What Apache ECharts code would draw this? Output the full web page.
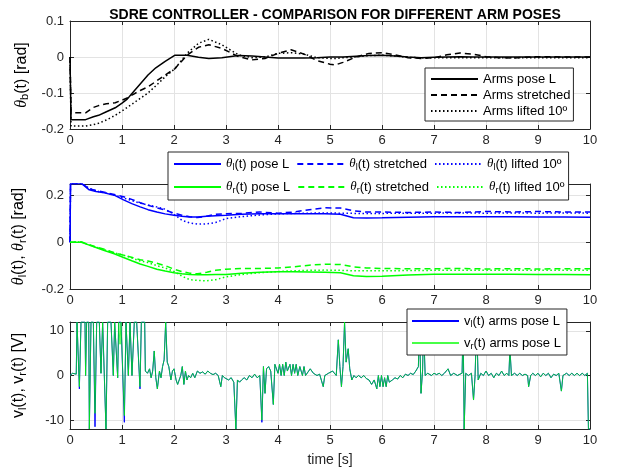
<!DOCTYPE html>
<html>
<head>
<meta charset="utf-8">
<script src="https://cdn.jsdelivr.net/npm/echarts@6/dist/echarts.min.js"></script>
<style>
  html, body { margin: 0; padding: 0; background: #fff; }
  #chart { width: 617px; height: 475px; }
</style>
</head>
<body>
<div id="chart"></div>
<script>
// top plot: body angle theta_b(t)
const tTop = [0, 0.02, 0.3, 0.45, 0.55, 0.7, 0.87, 1.0, 1.1, 1.2,
  1.35, 1.5, 1.65, 1.83, 2.02, 2.25, 2.47, 2.67, 2.92, 3.24,
  3.5, 3.75, 4.0, 4.25, 4.5, 4.75, 5.0, 5.1, 5.25, 5.5,
  5.75, 6.0, 6.25, 6.5, 6.75, 7.0, 7.25, 7.5, 7.75, 8.0,
  8.25, 8.5, 8.75, 9.0, 9.5, 10];
const thetaBPoseL = [0, -0.174, -0.174, -0.166, -0.162, -0.152, -0.141, -0.128, -0.117, -0.1,
  -0.075, -0.05, -0.03, -0.012, 0.005, 0.005, -0.001, -0.004, -0.002, 0.004,
  0.003, 0, -0.003, -0.003, -0.003, -0.002, 0, 0, 0, 0.002,
  0.004, 0.005, 0.003, 0, -0.002, -0.001, 0, 0.001, 0, 0,
  0, 0, 0, 0, 0, 0];
const thetaBStretched = [0, -0.155, -0.155, -0.14, -0.135, -0.13, -0.127, -0.12, -0.114, -0.105,
  -0.093, -0.083, -0.068, -0.05, -0.032, 0.005, 0.027, 0.034, 0.024, 0.001,
  -0.008, -0.004, 0.01, 0.02, 0.008, -0.01, -0.02, -0.022, -0.015, 0,
  0.01, 0.012, 0.006, -0.002, -0.004, -0.002, 0.006, 0.011, 0.008, 0.001,
  -0.002, -0.003, -0.001, 0.001, 0, 0];
const thetaBLifted = [0, -0.192, -0.192, -0.188, -0.184, -0.175, -0.162, -0.15, -0.14, -0.13,
  -0.115, -0.1, -0.08, -0.055, -0.032, 0.01, 0.038, 0.049, 0.034, 0.006,
  -0.002, 0, 0.01, 0.012, 0.008, -0.002, -0.004, -0.004, -0.002, 0,
  0.004, 0.005, 0.003, -0.001, -0.002, -0.002, -0.002, -0.002, -0.002, -0.002,
  -0.002, -0.002, -0.002, -0.002, -0.002, -0.002];

// middle plot: wheel angles
const tMid = [0, 0.01, 0.22, 0.37, 0.5, 0.66, 0.85, 1.03, 1.2, 1.35,
  1.5, 1.67, 1.83, 2.0, 2.15, 2.3, 2.45, 2.63, 2.8, 3.0,
  3.3, 3.65, 4.0, 4.3, 4.6, 4.9, 5.2, 5.45, 5.7, 6.0,
  6.5, 7.0, 7.5, 8.0, 8.5, 9.0, 9.5, 10];
const thetaLPoseL = [0, 0.252, 0.252, 0.225, 0.218, 0.212, 0.202, 0.182, 0.165, 0.152,
  0.14, 0.13, 0.122, 0.116, 0.112, 0.109, 0.109, 0.112, 0.114, 0.116,
  0.12, 0.123, 0.123, 0.123, 0.123, 0.122, 0.12, 0.105, 0.104, 0.105,
  0.108, 0.11, 0.11, 0.11, 0.11, 0.109, 0.109, 0.108];
const thetaLStretched = [0, 0.252, 0.252, 0.23, 0.222, 0.215, 0.205, 0.195, 0.183, 0.17,
  0.159, 0.148, 0.138, 0.125, 0.116, 0.11, 0.106, 0.112, 0.12, 0.123,
  0.124, 0.13, 0.125, 0.13, 0.14, 0.148, 0.147, 0.135, 0.13, 0.13,
  0.128, 0.13, 0.128, 0.132, 0.13, 0.132, 0.13, 0.13];
const thetaLLifted = [0, 0.252, 0.252, 0.232, 0.22, 0.213, 0.203, 0.19, 0.178, 0.168,
  0.16, 0.152, 0.142, 0.12, 0.095, 0.083, 0.078, 0.079, 0.085, 0.102,
  0.11, 0.117, 0.122, 0.124, 0.125, 0.126, 0.125, 0.124, 0.124, 0.124,
  0.125, 0.125, 0.126, 0.125, 0.126, 0.125, 0.126, 0.125];
const thetaRPoseL = [0, 0, 0, -0.012, -0.022, -0.035, -0.049, -0.065, -0.08, -0.093,
  -0.103, -0.115, -0.123, -0.13, -0.135, -0.138, -0.139, -0.139, -0.138, -0.138,
  -0.133, -0.128, -0.126, -0.126, -0.127, -0.128, -0.13, -0.143, -0.146, -0.145,
  -0.14, -0.137, -0.137, -0.137, -0.137, -0.138, -0.138, -0.139];
const thetaRStretched = [0, 0, 0.002, -0.01, -0.02, -0.03, -0.045, -0.055, -0.065, -0.075,
  -0.08, -0.09, -0.1, -0.115, -0.125, -0.132, -0.135, -0.128, -0.12, -0.115,
  -0.112, -0.112, -0.11, -0.105, -0.098, -0.094, -0.095, -0.105, -0.11, -0.112,
  -0.113, -0.113, -0.112, -0.114, -0.113, -0.114, -0.113, -0.113];
const thetaRLifted = [0, 0, 0.002, -0.012, -0.02, -0.032, -0.045, -0.055, -0.068, -0.08,
  -0.087, -0.1, -0.11, -0.125, -0.145, -0.16, -0.163, -0.165, -0.16, -0.148,
  -0.138, -0.13, -0.125, -0.122, -0.12, -0.119, -0.12, -0.122, -0.122, -0.122,
  -0.121, -0.12, -0.12, -0.12, -0.12, -0.12, -0.12, -0.12];

// bottom plot: motor voltages (arms pose L)
const vTime = [0, 0.05, 0.12, 0.135, 0.17, 0.18, 0.212, 0.288, 0.3, 0.32,
  0.36, 0.372, 0.404, 0.449, 0.481, 0.513, 0.564, 0.596, 0.628, 0.66,
  0.692, 0.724, 0.788, 0.833, 0.859, 0.885, 0.917, 0.936, 0.962, 0.981,
  1.045, 1.077, 1.122, 1.154, 1.192, 1.237, 1.282, 1.346, 1.372, 1.436,
  1.449, 1.49, 1.53, 1.56, 1.59, 1.62, 1.65, 1.68, 1.72, 1.75,
  1.78, 1.81, 1.84, 1.87, 1.9, 1.94, 1.97, 2.0, 2.04, 2.07,
  2.1, 2.13, 2.16, 2.19, 2.22, 2.25, 2.28, 2.32, 2.36, 2.4,
  2.45, 2.5, 2.55, 2.6, 2.65, 2.7, 2.75, 2.8, 2.85, 2.9,
  2.93, 2.97, 3.0, 3.05, 3.1, 3.15, 3.19, 3.22, 3.26, 3.3,
  3.35, 3.4, 3.45, 3.5, 3.55, 3.6, 3.65, 3.69, 3.72, 3.75,
  3.78, 3.82, 3.86, 3.91, 3.94, 3.97, 4.0, 4.03, 4.06, 4.09,
  4.12, 4.15, 4.18, 4.23, 4.26, 4.29, 4.32, 4.35, 4.38, 4.42,
  4.47, 4.5, 4.53, 4.59, 4.62, 4.68, 4.75, 4.8, 4.87, 4.9,
  4.97, 5.05, 5.12, 5.16, 5.19, 5.22, 5.25, 5.28, 5.31, 5.35,
  5.38, 5.42, 5.46, 5.5, 5.55, 5.6, 5.65, 5.7, 5.75, 5.8,
  5.85, 5.9, 5.93, 5.96, 5.99, 6.02, 6.05, 6.08, 6.11, 6.14,
  6.2, 6.25, 6.3, 6.35, 6.4, 6.45, 6.5, 6.55, 6.6, 6.65,
  6.7, 6.72, 6.75, 6.78, 6.8, 6.83, 6.88, 6.95, 7.0, 7.05,
  7.1, 7.15, 7.2, 7.27, 7.32, 7.38, 7.45, 7.5, 7.54, 7.56,
  7.58, 7.61, 7.66, 7.72, 7.76, 7.79, 7.82, 7.85, 7.9, 7.95,
  8.0, 8.05, 8.1, 8.15, 8.2, 8.25, 8.3, 8.35, 8.4, 8.44,
  8.46, 8.49, 8.55, 8.6, 8.65, 8.7, 8.75, 8.8, 8.82, 8.86,
  8.9, 8.95, 9.0, 9.05, 9.1, 9.15, 9.2, 9.25, 9.3, 9.35,
  9.4, 9.45, 9.48, 9.55, 9.6, 9.65, 9.7, 9.75, 9.8, 9.85,
  9.9, 9.95, 9.97, 10];
const vLeft = [0, 0.5, 0.3, 12, 12, -3, 12, 12, 0, 12,
  12, -12, 12, 12, -11.5, 12, 12, 0.5, 12, 12,
  -12, 12, 12, 0, 12, 12, -0.5, 12, 12, 12,
  -10.5, 12, 0, 12, 0, 12, 12, -3, 12, 12,
  1, 0.5, 1.5, -0.5, 1, 5.5, -0.5, -3, 1, -0.5,
  2, 3.5, 12, 3, 2, -1, 1, 1.5, -1, -2,
  -2, 0, 2, -2, 1, -1, 0, -0.5, 0.5, -0.5,
  1, 0.5, 0.8, 0.3, 1, 0.5, 0.2, 0.5, 0, -2.5,
  0, -0.5, -0.3, -1, -0.5, -1.5, -12, -1, -1.5, -1,
  -0.5, -1, 0, -0.5, 0.3, -0.5, 0, -10.5, 2, -4,
  1.5, 2, 1, -6.5, 2.5, 2.5, 0.5, 2.5, 0, 2.5,
  0, 3, 1, 2.5, 0, 2.5, 0.5, 2.5, 0, 2,
  0, 2, 0, 1, 1.5, 0.5, 0, 0.3, -2.5, 0,
  0.5, 1, 0, 8, 2, -2.5, 2, 12, 3, 6,
  1.5, -1, 0, -0.5, 0, -0.5, 0, -0.7, -1, -2,
  -1, -3, 0, -2.5, 0, -2.5, -0.5, -2.5, 0, -1.5,
  -1, -0.5, -0.8, 0, -0.5, 0.3, 0, 0.5, 0.2, 1,
  2, 12, -4, 1, 11, 0, 0.5, 0, 0.5, 0.2,
  0.5, 0, 0.5, 1.5, 0, 0.5, 0, 0.3, 0.5, 12,
  -12, 0.5, 0, 0.5, -5.5, 0, 12, -1, 0.5, 0,
  1, 0, 0.5, -0.5, 0.5, 0, 1, 0, 0.5, 0,
  6, 0, 0.5, 0, 0.5, 0, 0.3, 0, -2.5, 0,
  0.5, 0, 0.5, -0.3, 0.5, 0, 0.5, -0.5, 0.3, 0,
  0.5, -3.5, 0, 0.5, 0, 0.5, 0, 0.5, 0, 0.5,
  0, 0.5, -12, -12];
const vRight = [0, 0.5, 0.3, 12, 12, -2.5, 12, 12, 0, 12,
  12, -12, 12, 12, -8.5, 12, 12, 0.5, 12, 12,
  -12, 12, 12, 0, 12, 12, -0.5, 12, 7, 12,
  -9, 12, 0, 12, 0, 12, 12, -2.5, 12, 12,
  1, 0.5, 1.5, -0.5, 1, 5.5, -0.5, -3, 1, -0.5,
  2, 3.5, 12, 3, 2, -1, 1, 1.5, -1, -2,
  -2, 0, 2, -2, 1, -1, 0, -0.5, 0.5, -0.5,
  1, 0.5, 0.8, 0.3, 1, 0.5, 0.2, 0.5, 0, -2.5,
  0, -0.5, -0.3, -1, -0.5, -1.5, -12, -1, -1.5, -1,
  -0.5, -1, 0, -0.5, 0.3, -0.5, 0, -10, 2, -4,
  1.5, 2, 1, -6.5, 2.5, 2.5, 0.5, 2.5, 0, 2.5,
  0, 3, 1, 2.5, 0, 2.5, 0.5, 2.5, 0, 2,
  0, 2, 0, 1, 1.5, 0.5, 0, 0.3, -2.5, 0,
  0.5, 1, 0, 8, 2, -2.5, 2, 12, 3, 6,
  1.5, -1, 0, -0.5, 0, -0.5, 0, -0.7, -1, -2,
  -1, -3, 0, -2.5, 0, -2.5, -0.5, -2.5, 0, -1.5,
  -1, -0.5, -0.8, 0, -0.5, 0.3, 0, 0.5, 0.2, 1,
  2, 12, -4, 1, 11, 0, 0.5, 0, 0.5, 0.2,
  0.5, 0, 0.5, 1.5, 0, 0.5, 0, 0.3, 0.5, 12,
  -12, 0.5, 0, 0.5, -5.5, 0, 12, -1, 0.5, 0,
  1, 0, 0.5, -0.5, 0.5, 0, 1, 0, 0.5, 0,
  6, 0, 0.5, 0, 0.5, 0, 0.3, 0, -2.5, 0,
  0.5, 0, 0.5, -0.3, 0.5, 0, 0.5, -0.5, 0.3, 0,
  0.5, -3.5, 0, 0.5, 0, 0.5, 0, 0.5, 0, 0.5,
  0, 0.5, -12, -12];

const xTicks = [0, 10, 1];          // min, max, interval
const vTickValues = [-10, 0, 10];

const FONT = 'Liberation Sans, Arial, sans-serif';
const AX = '#262626';
const GRID_LINE = '#e3e3e3';
const BLUE = '#0000ff';
const GREEN = '#00ff00';

const pair = (ts, vs) => ts.map((t, i) => [t, vs[i]]);

const subRich = (size) => ({
  th: { fontSize: size, fontStyle: 'italic', fontFamily: 'Liberation Serif', color: '#000' },
  sub: { fontSize: Math.round(size * 0.7), lineHeight: 6, verticalAlign: 'bottom', fontFamily: FONT, color: '#000' }
});

const grids = [
  { left: 70, right: 27, top: 21, height: 108 },
  { left: 70, right: 27, top: 184, height: 105 },
  { left: 70, right: 27, top: 322, height: 107 }
];

const xAxes = [];
const yAxes = [];
grids.forEach((g, i) => {
  xAxes.push({
    type: 'value', gridIndex: i, min: xTicks[0], max: xTicks[1], interval: xTicks[2],
    axisLine: { onZero: false, lineStyle: { color: AX, width: 1 } },
    axisTick: { inside: true, length: 4, lineStyle: { color: AX } },
    axisLabel: { color: AX, fontFamily: FONT, fontSize: 13, margin: 5 },
    splitLine: { show: true, lineStyle: { color: GRID_LINE, width: 1 } },
    name: i === 2 ? 'time [s]' : '',
    nameLocation: 'middle', nameGap: 24,
    nameTextStyle: { color: AX, fontFamily: FONT, fontSize: 14 }
  });
});
grids.forEach((g, i) => {
  // mirror axis on top for the box ticks
  xAxes.push({
    type: 'value', gridIndex: i, position: 'top', min: xTicks[0], max: xTicks[1], interval: xTicks[2],
    axisLine: { onZero: false, lineStyle: { color: AX, width: 1 } },
    axisTick: { inside: true, length: 4, lineStyle: { color: AX } },
    axisLabel: { show: false }, splitLine: { show: false }
  });
});

const yBase = {
  type: 'value',
  axisLine: { show: true, onZero: false, lineStyle: { color: AX, width: 1 } },
  axisTick: { show: true, inside: true, length: 4, lineStyle: { color: AX } },
  axisLabel: { color: AX, fontFamily: FONT, fontSize: 13, margin: 6 },
  splitLine: { show: true, lineStyle: { color: GRID_LINE, width: 1 } },
  nameLocation: 'middle', nameGap: 40,
  nameTextStyle: { color: '#000', fontFamily: FONT, fontSize: 16, lineHeight: 18, rich: subRich(16) }
};
const yRanges = [
  { min: -0.2, max: 0.1, interval: 0.1, name: '{th|θ}{sub|b}(t) [rad]' },
  { min: -0.2, max: 0.25, interval: 0.2, name: '{th|θ}{sub|l}(t), {th|θ}{sub|r}(t) [rad]' },
  { min: -12, max: 12, name: 'v{sub|l}(t), v{sub|r}(t) [V]', custom: vTickValues }
];
yRanges.forEach((r, i) => {
  const ax = JSON.parse(JSON.stringify(yBase));
  ax.gridIndex = i;
  ax.min = r.min; ax.max = r.max;
  ax.name = r.name;
  ax.nameGap = i === 0 ? 38 : 42;
  if (r.interval) ax.interval = r.interval;
  if (r.custom) {
    ax.axisLabel.customValues = r.custom;
    ax.axisTick.customValues = r.custom;
  }
  ax.axisLabel.showMaxLabel = i !== 1;
  ax.axisLabel.formatter = (v) => String(+(+v).toFixed(2));
  yAxes.push(ax);
});
yRanges.forEach((r, i) => {
  const ax = {
    type: 'value', gridIndex: i, position: 'right', min: r.min, max: r.max,
    axisLine: { show: true, onZero: false, lineStyle: { color: AX, width: 1 } },
    axisTick: { show: true, inside: true, length: 4, lineStyle: { color: AX } },
    axisLabel: { show: false }, splitLine: { show: false }
  };
  if (r.interval) ax.interval = r.interval;
  if (r.custom) ax.axisTick.customValues = r.custom;
  yAxes.push(ax);
});

const lineSeries = (name, data, axis, color, width, type, opacity) => ({
  name, type: 'line', xAxisIndex: axis, yAxisIndex: axis, data,
  symbol: 'none', clip: true, animation: false,
  lineStyle: { color, width, type, opacity: opacity == null ? 1 : opacity },
  itemStyle: { color }
});

const DASH = [6, 4];
const DOT = [1.5, 2.5];

const midLabels = {
  thlL: '{th|θ}{sub|l}(t) pose L',
  thlS: '{th|θ}{sub|l}(t) stretched',
  thlU: '{th|θ}{sub|l}(t) lifted 10º',
  thrL: '{th|θ}{sub|r}(t) pose L',
  thrS: '{th|θ}{sub|r}(t) stretched',
  thrU: '{th|θ}{sub|r}(t) lifted 10º'
};
const botLabels = {
  vl: 'v{sub|l}(t) arms pose L',
  vr: 'v{sub|r}(t) arms pose L'
};

// legend icons: line only, hide the symbol ECharts puts in the middle
const legendBase = {
  selectedMode: false,
  itemWidth: 47, itemHeight: 14,
  itemStyle: { opacity: 0, borderWidth: 0 },
  backgroundColor: '#fff', borderColor: AX, borderWidth: 1, borderRadius: 0,
  textStyle: { color: '#000', fontFamily: FONT, fontSize: 13, lineHeight: 16, rich: subRich(13) }
};

const option = {
  animation: false,
  backgroundColor: '#fff',
  title: {
    text: 'SDRE CONTROLLER - COMPARISON FOR DIFFERENT ARM POSES',
    left: 330, top: 3, textAlign: 'center',
    textStyle: { color: '#000', fontFamily: FONT, fontSize: 14, fontWeight: 'bold' }
  },
  grid: grids,
  xAxis: xAxes,
  yAxis: yAxes,
  legend: [
    Object.assign({}, legendBase, {
      data: ['Arms pose L', 'Arms stretched', 'Arms lifted 10º'],
      orient: 'vertical', left: 425, top: 68, itemGap: 0, padding: [3, 3, 2, 5]
    }),
    Object.assign({}, legendBase, {
      data: ['thlL', 'thlS', 'thlU', 'thrL', 'thrS', 'thrU'],
      formatter: (n) => midLabels[n],
      orient: 'horizontal', left: 168, top: 152, width: 400, itemGap: 7, padding: [4, 4, 5, 5]
    }),
    Object.assign({}, legendBase, {
      data: ['vl', 'vr'],
      formatter: (n) => botLabels[n],
      orient: 'vertical', left: 407, top: 309, itemGap: 6, padding: [4, 6, 4, 4]
    })
  ],
  series: [
    lineSeries('Arms pose L', pair(tTop, thetaBPoseL), 0, '#000', 1.5, 'solid'),
    lineSeries('Arms stretched', pair(tTop, thetaBStretched), 0, '#000', 1.5, DASH),
    lineSeries('Arms lifted 10º', pair(tTop, thetaBLifted), 0, '#000', 1.5, DOT),
    lineSeries('thlL', pair(tMid, thetaLPoseL), 1, BLUE, 1.5, 'solid'),
    lineSeries('thlS', pair(tMid, thetaLStretched), 1, BLUE, 1.5, DASH),
    lineSeries('thlU', pair(tMid, thetaLLifted), 1, BLUE, 1.5, DOT),
    lineSeries('thrL', pair(tMid, thetaRPoseL), 1, GREEN, 1.5, 'solid'),
    lineSeries('thrS', pair(tMid, thetaRStretched), 1, GREEN, 1.5, DASH),
    lineSeries('thrU', pair(tMid, thetaRLifted), 1, GREEN, 1.5, DOT),
    lineSeries('vl', pair(vTime, vLeft), 2, BLUE, 1, 'solid'),
    lineSeries('vr', pair(vTime, vRight), 2, GREEN, 1, 'solid', 0.72)
  ]
};

const chart = echarts.init(document.getElementById('chart'), null, { renderer: 'canvas' });
chart.setOption(option);
window.addEventListener('resize', () => chart.resize());
</script>
</body>
</html>
